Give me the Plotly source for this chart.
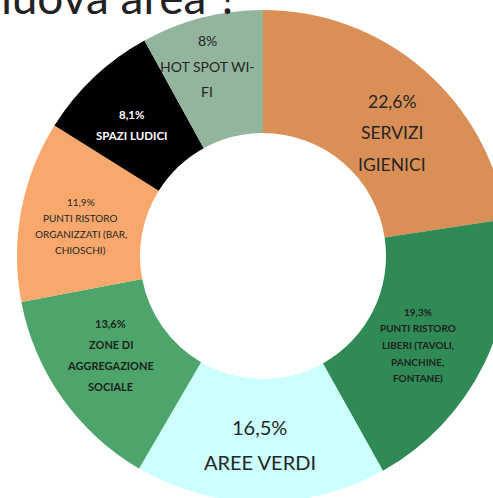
import numpy as np
import plotly.graph_objects as go

# ---------------- data ----------------
categories = [
    "SERVIZI IGIENICI",
    "PUNTI RISTORO LIBERI (TAVOLI, PANCHINE, FONTANE)",
    "AREE VERDI",
    "ZONE DI AGGREGAZIONE SOCIALE",
    "PUNTI RISTORO ORGANIZZATI (BAR, CHIOSCHI)",
    "SPAZI LUDICI",
    "HOT SPOT WI-FI",
]
values = [22.6, 19.3, 16.5, 13.6, 11.9, 8.1, 8.0]
value_labels = ["22,6%", "19,3%", "16,5%", "13,6%", "11,9%", "8,1%", "8%"]
label_lines = [
    ["SERVIZI", "IGIENICI"],
    ["PUNTI RISTORO", "LIBERI (TAVOLI,", "PANCHINE,", "FONTANE)"],
    ["AREE VERDI"],
    ["ZONE DI", "AGGREGAZIONE", "SOCIALE"],
    ["PUNTI RISTORO", "ORGANIZZATI (BAR,", "CHIOSCHI)"],
    ["SPAZI LUDICI"],
    ["HOT SPOT WI-", "FI"],
]
title_text = "nuova area ?"

# ---------------- style ----------------
# the donut in the reference runs past the right and bottom edges of the picture,
# so the figure is a little larger than the window and the page does not scroll
W, H = 526, 502
colors = ["#DA8F56", "#2F8A55", "#CCFFFF", "#4DA56B", "#F8A86C", "#000000", "#93B49D"]
font_family = "Lato, 'Open Sans', sans-serif"
label_size = [17.5, 10, 20, 11, 10, 11.5, 14]
label_gap = [31.5, 16.6, 35, 21, 16, 21, 25.5]
label_color = ["#262626", "#1f1f1f", "#262626", "#1f1f1f", "#262626", "#FFFFFF", "#262626"]
label_bold = [False, True, False, True, False, True, False]
# pixel nudges of the label blocks away from the ring mid-line
label_nudge = [(8.7, 16.9), (-10.7, 7.8), (-1.3, 4.0), (-1.8, -7.5), (-0.7, 4.0), (-4.8, 2.6), (-10.1, -10.8)]

hole = 0.5
cx, cy, R = 263.0, 256.0, 246.0  # pie centre / radius in pixels
dom_x = [max(0.0, (cx - R) / W), min(1.0, (cx + R) / W)]
dom_y = [max(0.0, 1 - (cy + R) / H), min(1.0, 1 - (cy - R) / H)]

fig = go.Figure(
    go.Pie(
        labels=categories,
        values=values,
        sort=False,
        direction="clockwise",
        rotation=0,
        hole=hole,
        marker=dict(colors=colors, line=dict(width=0)),
        textinfo="none",
        hoverinfo="label+percent",
        showlegend=False,
        domain=dict(x=dom_x, y=dom_y),
    )
)

# label placement derived from the data (mid-angle of each slice on the ring mid-line)
vals = np.array(values, dtype=float)
mid_frac = (np.cumsum(vals) - vals / 2) / vals.sum()
theta = np.deg2rad(mid_frac * 360.0)
r_lab = R * (1 + hole) / 2

annotations = []
for i in range(len(values)):
    gx = cx + r_lab * np.sin(theta[i]) + label_nudge[i][0]
    gy = cy - r_lab * np.cos(theta[i]) + label_nudge[i][1]
    lines = [value_labels[i]] + label_lines[i]
    n = len(lines)
    for j, txt in enumerate(lines):
        ly = gy + (j - (n - 1) / 2) * label_gap[i]
        t = f"<b>{txt}</b>" if label_bold[i] else txt
        annotations.append(dict(
            x=gx / W, y=1 - ly / H, xref="paper", yref="paper",
            text=t, showarrow=False, xanchor="center", yanchor="middle",
            font=dict(family=font_family, size=label_size[i], color=label_color[i]),
        ))

# title (cut at the top of the picture as in the reference)
title_size = 46
annotations.append(dict(
    x=-16 / W, y=1 - (15 + 0.213 * title_size + 1) / H, xref="paper", yref="paper",
    text=title_text, showarrow=False, xanchor="left", yanchor="bottom",
    font=dict(family=font_family, size=title_size, color="#222222"),
))

fig.update_layout(
    width=W, height=H,
    margin=dict(l=0, r=0, t=0, b=0),
    paper_bgcolor="white",
    plot_bgcolor="white",
    annotations=annotations,
)

page_style = (
    "document.body.style.margin='0px';"
    "document.documentElement.style.overflow='hidden';"
    "document.body.style.overflow='hidden';"
)
fig.write_html("out.html", post_script=page_style, config={"displayModeBar": False})
